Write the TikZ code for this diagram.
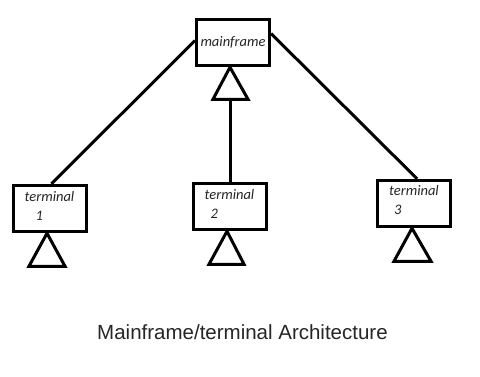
\documentclass[tikz,border=0pt]{standalone}
\usepackage{fontspec}
\setmainfont{Liberation Sans}
\newfontfamily\boxfont{Carlito}
\begin{document}
\begin{tikzpicture}[x=1pt,y=-1pt,
  box/.style={draw=black,line width=3pt,minimum width=73pt,minimum height=46.5pt,inner sep=0pt},
  lbl/.style={inner sep=0pt,align=left,font=\boxfont\itshape\fontsize{14.5pt}{19pt}\selectfont,text=black!85},
  link/.style={line width=3pt,line join=miter},
  tri/.style={line width=3pt,line join=miter}]
\useasboundingbox[fill=white] (0,0) rectangle (480,376);
\node[box] (m) at (233,42.5) {};
\node[box] (t1) at (49.5,208.5) {};
\node[box] (t2) at (229.5,206.5) {};
\node[box] (t3) at (414,203.5) {};
\node[lbl] (ml) at (m.center) {mainframe};
\node[lbl] (t1l) at ([yshift=3pt]t1.center) {terminal\\\hspace{11pt}1};
\node[lbl] (t2l) at ([yshift=3pt]t2.center) {terminal\\\hspace{6pt}2};
\node[lbl] (t3l) at ([yshift=3pt]t3.center) {terminal\\\hspace{5pt}3};
% triangles under boxes
\draw[tri] ([xshift=-3pt]m.south) -- ++(-17,32) coordinate (mbl) -- ++(35,0) -- cycle;
\coordinate (mtb) at ([xshift=-3pt,yshift=-32pt]m.south);
\draw[tri] ([xshift=-2.5pt]t1.south) -- ++(-18,33) -- ++(36,0) -- cycle;
\draw[tri] ([xshift=-2.5pt]t2.south) -- ++(-18,33) -- ++(35,0) -- cycle;
\draw[tri] ([xshift=-2pt]t3.south) -- ++(-18,33) -- ++(37,0) -- cycle;
% connectors
\draw[link] ([xshift=2pt]t1.north) -- ([yshift=2pt]m.west);
\draw[link] (mtb) -- (mtb |- t2.north);
\draw[link] ([yshift=9pt]m.east) -- ([xshift=3pt]t3.north);
\node[font=\fontsize{20.5pt}{24pt}\selectfont,text=black!85] (cap) at (242.5,332) {Mainframe/terminal Architecture};
\end{tikzpicture}
\end{document}
